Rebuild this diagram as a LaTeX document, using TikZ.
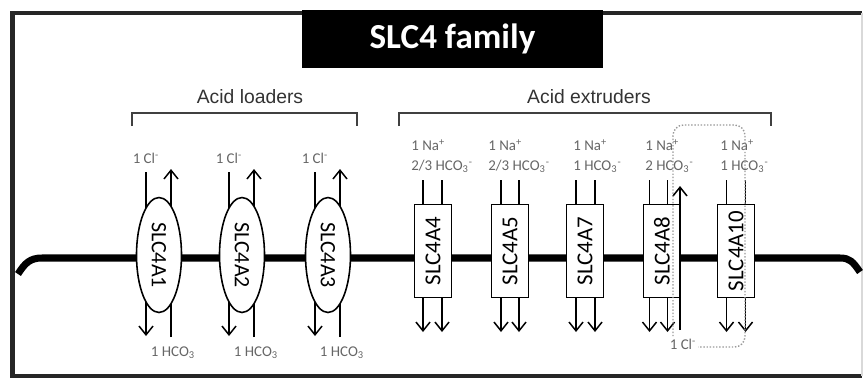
\documentclass[tikz,border=0pt]{standalone}
\usepackage{fontspec}
\setmainfont{Carlito}
\newfontfamily\arialfont{Liberation Sans}
\usetikzlibrary{arrows.meta, positioning, shapes.geometric}

\begin{document}
\begin{tikzpicture}[
    x=0.02cm, y=-0.02cm,
    loader/.style={draw, ellipse, fill=white, line width=0.9pt,
                   minimum width=2.3cm, minimum height=0.9cm, inner sep=0pt,
                   font=\fontsize{12.5}{14}\selectfont},
    extruder/.style={draw, rectangle, fill=white, line width=0.9pt,
                   minimum width=1.86cm, minimum height=0.74cm, inner sep=0pt,
                   font=\fontsize{13}{14}\selectfont},
    ion/.style={font=\fontsize{8.5}{11.3}\selectfont, text=black!60,
                inner sep=0pt},
    flux/.style={line width=0.85pt, -{Straight Barb[length=5pt,width=8pt]}},
    grp/.style={font=\arialfont\fontsize{11}{13}\selectfont, text=black!80},
    brace/.style={draw=black!75, line width=0.8pt},
    >=Stealth
  ]
  \useasboundingbox (0,0) rectangle (864,380);

  % frame and title
  \draw[line width=2.6pt, black!85] (862,13) -- (12.5,13) -- (12.5,376) -- (862,376);
  \draw[line width=0.6pt, black!15] (862,13) -- (862,376);
  \node[fill=black, text=white, font=\bfseries\fontsize{20}{24}\selectfont,
        minimum width=6.02cm, minimum height=1.16cm, inner sep=0pt]
    (title) at (452.5, 39) {SLC4 family};

  % groups
  \node[grp] (loaders) at (250, 97) {Acid loaders};
  \node[grp] (extruders) at (589, 97) {Acid extruders};
  \draw[brace] (132,126) -- (132,113) -- (357,113) -- (357,126);
  \draw[brace] (399,126) -- (399,113) -- (771,113) -- (771,126);

  % membrane
  \draw[line width=4pt] (18,274) .. controls (25,263) and (30,258) .. (42,258)
    -- (840,258) .. controls (850,258) and (853,262) .. (860,272);

  % Acid loaders
  \foreach \x [count=\i] in {159,242,328} {
    \coordinate (clout\i) at (\x-13,172);
    \coordinate (clin\i) at (\x-13,336);
    \coordinate (hcoin\i) at (\x+12,337);
    \coordinate (hcoout\i) at (\x+12,169);
    \draw[flux] (clout\i) -- (clin\i);
    \draw[flux] (hcoin\i) -- (hcoout\i);
    \node[loader, rotate=-90] (A\i) at (\x,255) {SLC4A\i};
    \node[ion] (cl\i) at (\x-13,158) {1 Cl\textsuperscript{-}};
    \node[ion] (hco\i) at (\x+14,353) {1 HCO\textsubscript{3}};
  }

  % Acid extruders
  \foreach \name/\x/\tx/\n/\l/\r in {A4/433/411/{2/3}/-10/9,
      A5/510/488/{2/3}/-9/9, A7/585/573/1/-9/10,
      A8/662/645/2/-12.5/5.5, A10/736/720/1/-9.5/9.5} {
    \coordinate (natop\name) at (\x+\l,180);
    \coordinate (nabot\name) at (\x+\l,332);
    \coordinate (hcotop\name) at (\x+\r,180);
    \coordinate (hcobot\name) at (\x+\r,332);
    \draw[flux] (natop\name) -- (nabot\name);
    \draw[flux] (hcotop\name) -- (hcobot\name);
    \node[extruder, rotate=90] (\name) at (\x,251) {SLC4\name};
    \node[ion, anchor=west, align=left] (lbl\name) at (\tx,156)
      {1 Na\textsuperscript{+}\\\n\ HCO\textsubscript{3}\textsuperscript{-}};
  }

  % Cl- exchange of SLC4A8 / SLC4A10
  \coordinate (clbot) at (680,330);
  \coordinate (cltop) at (680,186);
  \draw[flux] (clbot) -- (cltop);
  \draw[black!40, densely dotted, line width=0.8pt, rounded corners=6pt]
    (673,125) rectangle (745,347);
  \node[ion, fill=white, inner sep=1pt] (clex) at (683,344) {1 Cl\textsuperscript{-}};
\end{tikzpicture}
\end{document}
